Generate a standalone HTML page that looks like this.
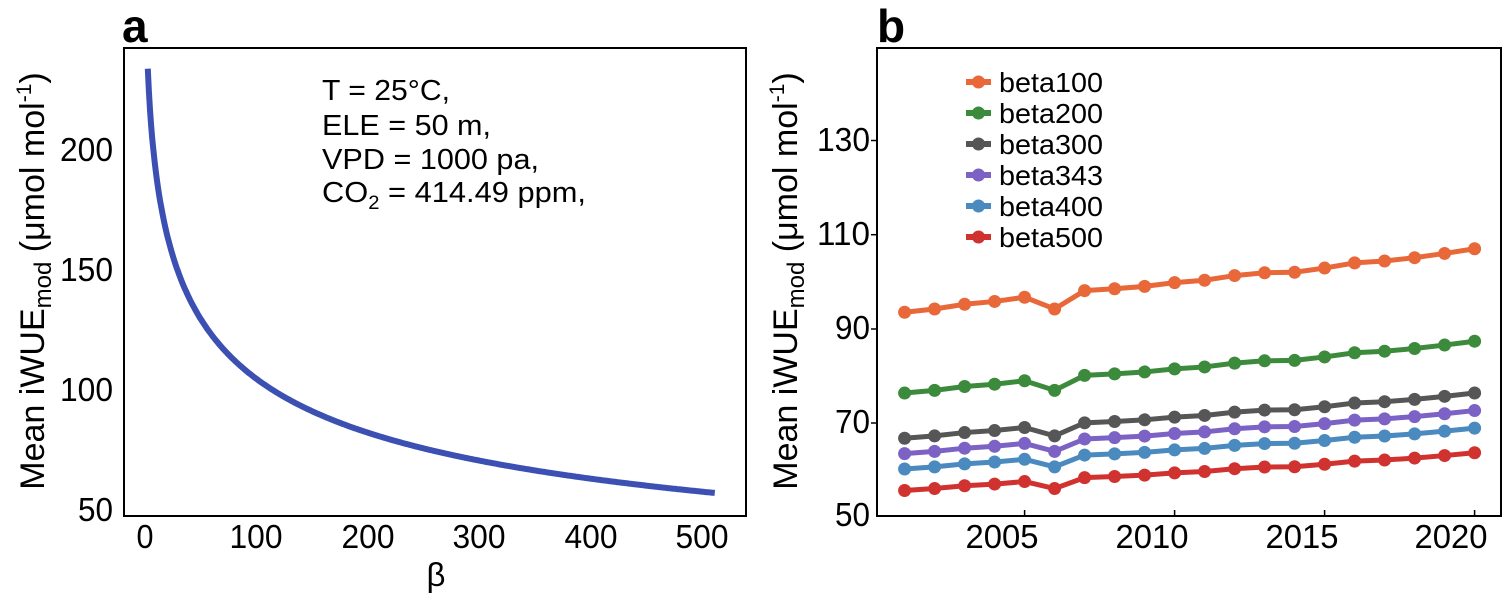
<!DOCTYPE html>
<html><head><meta charset="utf-8"><style>
html,body{margin:0;padding:0;background:#fff;}
svg{display:block;font-family:"Liberation Sans",Arial,sans-serif;}
</style></head><body>
<svg id="s" width="1505" height="598" viewBox="0 0 1505 598" xmlns="http://www.w3.org/2000/svg">
<rect width="1505" height="598" fill="#fff"/>
<!-- panel a -->
<text x="122" y="42" font-size="46" font-weight="bold">a</text>
<rect x="124" y="48" width="622" height="468" fill="none" stroke="#000" stroke-width="2"/>
<g font-size="33" text-anchor="end" lengthAdjust="spacingAndGlyphs">
<text x="113" y="161" textLength="53" lengthAdjust="spacingAndGlyphs">200</text><text x="113" y="281" textLength="53" lengthAdjust="spacingAndGlyphs">150</text><text x="113" y="401" textLength="53" lengthAdjust="spacingAndGlyphs">100</text><text x="113" y="521" textLength="35" lengthAdjust="spacingAndGlyphs">50</text>
</g>
<g font-size="33" text-anchor="middle">
<text x="145" y="548" textLength="17" lengthAdjust="spacingAndGlyphs">0</text><text x="256" y="548" textLength="53" lengthAdjust="spacingAndGlyphs">100</text><text x="368" y="548" textLength="53" lengthAdjust="spacingAndGlyphs">200</text><text x="479" y="548" textLength="53" lengthAdjust="spacingAndGlyphs">300</text><text x="591" y="548" textLength="53" lengthAdjust="spacingAndGlyphs">400</text><text x="702" y="548" textLength="53" lengthAdjust="spacingAndGlyphs">500</text>
<text x="436" y="586">β</text>
</g>
<g font-size="29">
<text x="322" y="100" textLength="128" lengthAdjust="spacingAndGlyphs">T = 25°C,</text>
<text x="322" y="135" textLength="169" lengthAdjust="spacingAndGlyphs">ELE = 50 m,</text>
<text x="322" y="169" textLength="217" lengthAdjust="spacingAndGlyphs">VPD = 1000 pa,</text>
<text x="322" y="202" textLength="264" lengthAdjust="spacingAndGlyphs">CO<tspan font-size="19" dy="7">2</tspan><tspan dy="-7"> = 414.49 ppm,</tspan></text>
</g>
<text transform="translate(44,281) rotate(-90)" font-size="34" text-anchor="middle">Mean iWUE<tspan font-size="24" dy="7">mod</tspan><tspan dy="-7"> (μmol mol</tspan><tspan font-size="21" dy="-13">-1</tspan><tspan dy="13">)</tspan></text>
<path id="curve" fill="none" stroke="#3b50b2" stroke-width="6"/>
<!-- panel b -->
<text x="877" y="42" font-size="46" font-weight="bold">b</text>
<rect x="877" y="48" width="624" height="468" fill="none" stroke="#000" stroke-width="2"/>
<g stroke="#000" stroke-width="1.5">
<line x1="871" y1="140.5" x2="877" y2="140.5"/><line x1="871" y1="234.7" x2="877" y2="234.7"/><line x1="871" y1="329" x2="877" y2="329"/><line x1="871" y1="423" x2="877" y2="423"/>
<line x1="1024.6" y1="516" x2="1024.6" y2="510"/><line x1="1174.6" y1="516" x2="1174.6" y2="510"/><line x1="1324.6" y1="516" x2="1324.6" y2="510"/><line x1="1474.6" y1="516" x2="1474.6" y2="510"/>
</g>
<g font-size="33" text-anchor="end">
<text x="870" y="151" textLength="53" lengthAdjust="spacingAndGlyphs">130</text><text x="870" y="245" textLength="53" lengthAdjust="spacingAndGlyphs">110</text><text x="870" y="339" textLength="35" lengthAdjust="spacingAndGlyphs">90</text><text x="870" y="433" textLength="35" lengthAdjust="spacingAndGlyphs">70</text><text x="870" y="526" textLength="35" lengthAdjust="spacingAndGlyphs">50</text>
</g>
<g font-size="33" text-anchor="middle">
<text x="1002" y="548" textLength="73" lengthAdjust="spacingAndGlyphs">2005</text><text x="1152" y="548" textLength="73" lengthAdjust="spacingAndGlyphs">2010</text><text x="1302" y="548" textLength="73" lengthAdjust="spacingAndGlyphs">2015</text><text x="1451" y="548" textLength="73" lengthAdjust="spacingAndGlyphs">2020</text>
</g>
<text transform="translate(797,281) rotate(-90)" font-size="34" text-anchor="middle">Mean iWUE<tspan font-size="24" dy="7">mod</tspan><tspan dy="-7"> (μmol mol</tspan><tspan font-size="21" dy="-13">-1</tspan><tspan dy="13">)</tspan></text>
<g id="series"></g>
<g id="legend" font-size="28"></g>
</svg>
<script>
var ns="http://www.w3.org/2000/svg";
var d="";
for(var b=2.5;b<=512;b+=1){var v=304.7/(1+0.19*Math.sqrt(b));var x=145+b*1.114;var y=511-(v-50)*2.4;d+=(b==2.5?"M":"L")+x.toFixed(1)+" "+y.toFixed(1);}
document.getElementById("curve").setAttribute("d",d);
var base=[93.3,94,95,95.6,96.5,94,97.9,98.3,98.8,99.6,100.1,101.1,101.7,101.8,102.7,103.8,104.2,104.9,105.8,106.8];
var S=[["beta100","#e8683a",1],["beta200","#3c8a3c",0.816],["beta300","#565656",0.713],["beta343","#7b62c4",0.678],["beta400","#4a8abe",0.643],["beta500","#d0332f",0.594]];
var g=document.getElementById("series"),L=document.getElementById("legend");
S.forEach(function(s,i){
 var pts=base.map(function(v,k){return [904.6+k*30,516-(v*s[2]-50)*4.705];});
 var p=document.createElementNS(ns,"polyline");p.setAttribute("points",pts.map(function(q){return q.join(",")}).join(" "));
 p.setAttribute("fill","none");p.setAttribute("stroke",s[1]);p.setAttribute("stroke-width","5");g.appendChild(p);
 pts.forEach(function(q){var c=document.createElementNS(ns,"circle");c.setAttribute("cx",q[0]);c.setAttribute("cy",q[1]);c.setAttribute("r","6.5");c.setAttribute("fill",s[1]);g.appendChild(c);});
 var y=82+i*31;
 var l=document.createElementNS(ns,"line");l.setAttribute("x1",966);l.setAttribute("x2",991);l.setAttribute("y1",y);l.setAttribute("y2",y);l.setAttribute("stroke",s[1]);l.setAttribute("stroke-width","6");L.appendChild(l);
 var c=document.createElementNS(ns,"circle");c.setAttribute("cx",978.5);c.setAttribute("cy",y);c.setAttribute("r","6.5");c.setAttribute("fill",s[1]);L.appendChild(c);
 var t=document.createElementNS(ns,"text");t.setAttribute("x",999);t.setAttribute("y",y+10);t.setAttribute("textLength","104");t.setAttribute("lengthAdjust","spacingAndGlyphs");t.textContent=s[0];L.appendChild(t);
});
</script>
</body></html>
